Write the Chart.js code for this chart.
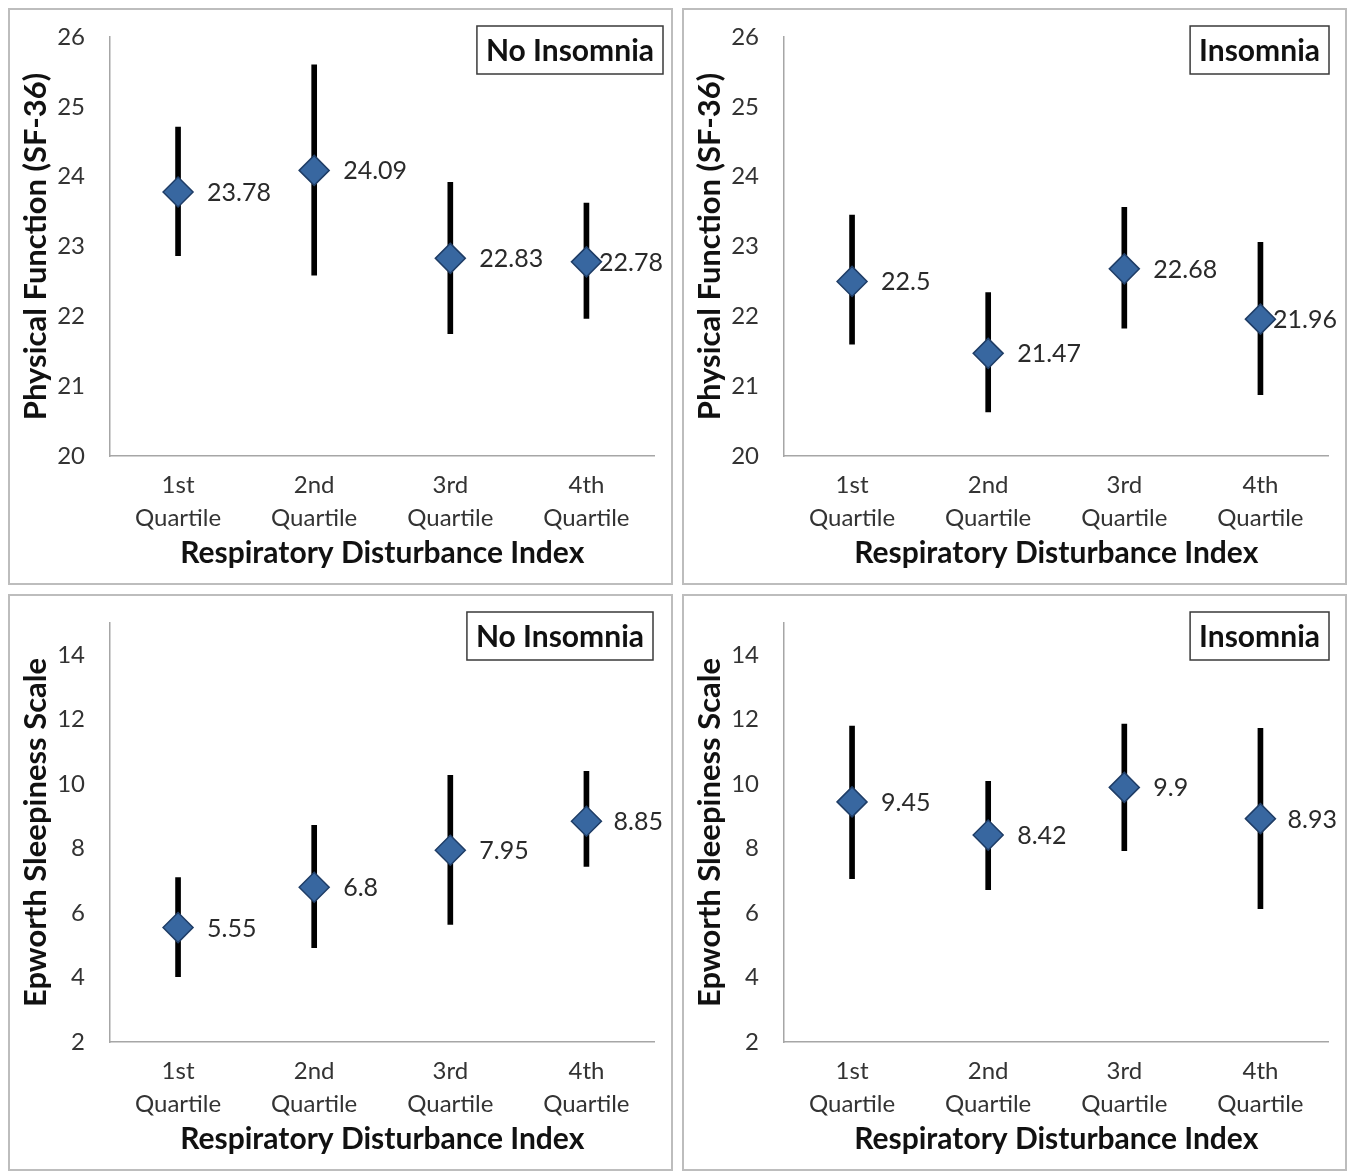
<!DOCTYPE html>
<html>
<head>
<meta charset="utf-8">
<script src="https://cdn.jsdelivr.net/npm/chart.js"></script>
<style>
  body { margin: 0; background: #fff; width: 1353px; height: 1172px; position: relative; overflow: hidden; }
  .panel { position: absolute; width: 665px; height: 577px; box-sizing: border-box; border: 2px solid #bdbdbd; background: #fff; }
  .panel canvas { display: block; }
</style>
</head>
<body>
<div class="panel" style="left:8px;top:8px"><canvas id="pfNo" width="661" height="573"></canvas></div>
<div class="panel" style="left:682px;top:8px"><canvas id="pfIns" width="661" height="573"></canvas></div>
<div class="panel" style="left:8px;top:594px"><canvas id="essNo" width="661" height="573"></canvas></div>
<div class="panel" style="left:682px;top:594px"><canvas id="essIns" width="661" height="573"></canvas></div>
<script>
// --- Dados ---
const quartis = [['1st', 'Quartile'], ['2nd', 'Quartile'], ['3rd', 'Quartile'], ['4th', 'Quartile']];

// Physical Function (SF-36): médias e limites do intervalo
const pfSemInsonia = [23.78, 24.09, 22.83, 22.78];
const pfSemInsoniaMin = [22.87, 22.59, 21.75, 21.97];
const pfSemInsoniaMax = [24.71, 25.60, 23.92, 23.62];

const pfInsonia = [22.5, 21.47, 22.68, 21.96];
const pfInsoniaMin = [21.60, 20.63, 21.83, 20.88];
const pfInsoniaMax = [23.45, 22.34, 23.56, 23.06];

// Epworth Sleepiness Scale
const essSemInsonia = [5.55, 6.8, 7.95, 8.85];
const essSemInsoniaMin = [4.03, 4.93, 5.65, 7.45];
const essSemInsoniaMax = [7.10, 8.72, 10.27, 10.40];

const essInsonia = [9.45, 8.42, 9.9, 8.93];
const essInsoniaMin = [7.07, 6.73, 7.94, 6.14];
const essInsoniaMax = [11.80, 10.09, 11.86, 11.73];

// Eixos
const pfEixo = { min: 20, max: 26, passo: 1, ultimo: 26 };
const essEixo = { min: 2, max: 15, passo: 2, ultimo: 14 };

const FONTE = 'Lato, "Open Sans", sans-serif';

// --- Plugins ---
// Escreve o valor ao lado de cada losango.
const rotulosValor = {
  id: 'rotulosValor',
  afterDatasetsDraw(chart) {
    const meta = chart.getDatasetMeta(1);
    const valores = chart.data.datasets[1].data;
    const ctx = chart.ctx;
    ctx.save();
    ctx.font = '25px ' + FONTE;
    ctx.fillStyle = '#2a2a2a';
    ctx.textBaseline = 'middle';
    meta.data.forEach((pt, i) => {
      const txt = String(valores[i]);
      const w = ctx.measureText(txt).width;
      let x = pt.x + 29;
      if (x + w > chart.width - 8) x = chart.width - 8 - w;
      ctx.fillText(txt, x, pt.y + 1);
    });
    ctx.restore();
  }
};

// Caixa com o nome do grupo no canto superior direito.
const caixaGrupo = {
  id: 'caixaGrupo',
  afterDraw(chart, args, opts) {
    const ctx = chart.ctx;
    ctx.save();
    ctx.font = 'bold 30px ' + FONTE;
    const w = ctx.measureText(opts.texto).width + 18;
    const h = 48;
    const x = opts.direita - w;
    const y = opts.topo;
    ctx.fillStyle = '#fff';
    ctx.fillRect(x, y, w, h);
    ctx.lineWidth = 1.5;
    ctx.strokeStyle = '#3a3a3a';
    ctx.strokeRect(x, y, w, h);
    ctx.fillStyle = '#111';
    ctx.textBaseline = 'middle';
    ctx.textAlign = 'center';
    ctx.fillText(opts.texto, x + w / 2, y + h / 2 + 1);
    ctx.restore();
  }
};

// --- Criação dos gráficos ---
function criarGrafico(id, medias, minimos, maximos, eixo, tituloY, grupo, direitaCaixa) {
  const faixas = minimos.map((m, i) => [m, maximos[i]]);
  return new Chart(document.getElementById(id), {
    type: 'bar',
    data: {
      labels: quartis,
      datasets: [{
        type: 'bar',
        data: faixas,
        backgroundColor: '#000',
        barThickness: 5,
        order: 1
      }, {
        type: 'line',
        data: medias,
        showLine: false,
        pointStyle: 'rectRot',
        pointRadius: 15,
        pointHoverRadius: 15,
        pointBackgroundColor: '#3867a0',
        pointBorderColor: '#1f3d66',
        pointBorderWidth: 1.5,
        order: 0
      }]
    },
    options: {
      responsive: false,
      animation: false,
      layout: { padding: { top: 27, right: 16, left: 0, bottom: 0 } },
      plugins: {
        legend: { display: false },
        tooltip: { enabled: false },
        caixaGrupo: { texto: grupo, direita: direitaCaixa, topo: 16 }
      },
      scales: {
        x: {
          grid: { display: false },
          border: { display: true, color: '#a6a6a6', width: 1.5 },
          ticks: {
            color: '#333',
            font: { family: FONTE, size: 24, lineHeight: 1.4 },
            padding: 4,
            maxRotation: 0
          },
          title: {
            display: true,
            text: 'Respiratory Disturbance Index',
            color: '#111',
            font: { family: FONTE, size: 30, weight: 'bold' },
            padding: { top: 0, bottom: 12 }
          },
          afterFit(scale) {
            scale.height = 127;
            scale.paddingLeft = 0;
            scale.paddingRight = 0;
          }
        },
        y: {
          min: eixo.min,
          max: eixo.max,
          grid: { display: false },
          border: { display: true, color: '#a6a6a6', width: 1.5 },
          ticks: {
            stepSize: eixo.passo,
            color: '#333',
            font: { family: FONTE, size: 24 },
            padding: 17
          },
          afterBuildTicks(scale) {
            scale.ticks = scale.ticks.filter(t => t.value <= eixo.ultimo);
          },
          title: {
            display: true,
            text: tituloY,
            color: '#111',
            font: { family: FONTE, size: 31, weight: 'bold' },
            padding: { top: 7, bottom: 0 }
          },
          afterFit(scale) {
            scale.width = 100;
            scale.paddingTop = 0;
            scale.paddingBottom = 0;
          }
        }
      }
    },
    plugins: [rotulosValor, caixaGrupo]
  });
}

criarGrafico('pfNo', pfSemInsonia, pfSemInsoniaMin, pfSemInsoniaMax, pfEixo, 'Physical Function (SF-36)', 'No Insomnia', 653);
criarGrafico('pfIns', pfInsonia, pfInsoniaMin, pfInsoniaMax, pfEixo, 'Physical Function (SF-36)', 'Insomnia', 645);
criarGrafico('essNo', essSemInsonia, essSemInsoniaMin, essSemInsoniaMax, essEixo, 'Epworth Sleepiness Scale', 'No Insomnia', 643);
criarGrafico('essIns', essInsonia, essInsoniaMin, essInsoniaMax, essEixo, 'Epworth Sleepiness Scale', 'Insomnia', 645);
</script>
</body>
</html>
